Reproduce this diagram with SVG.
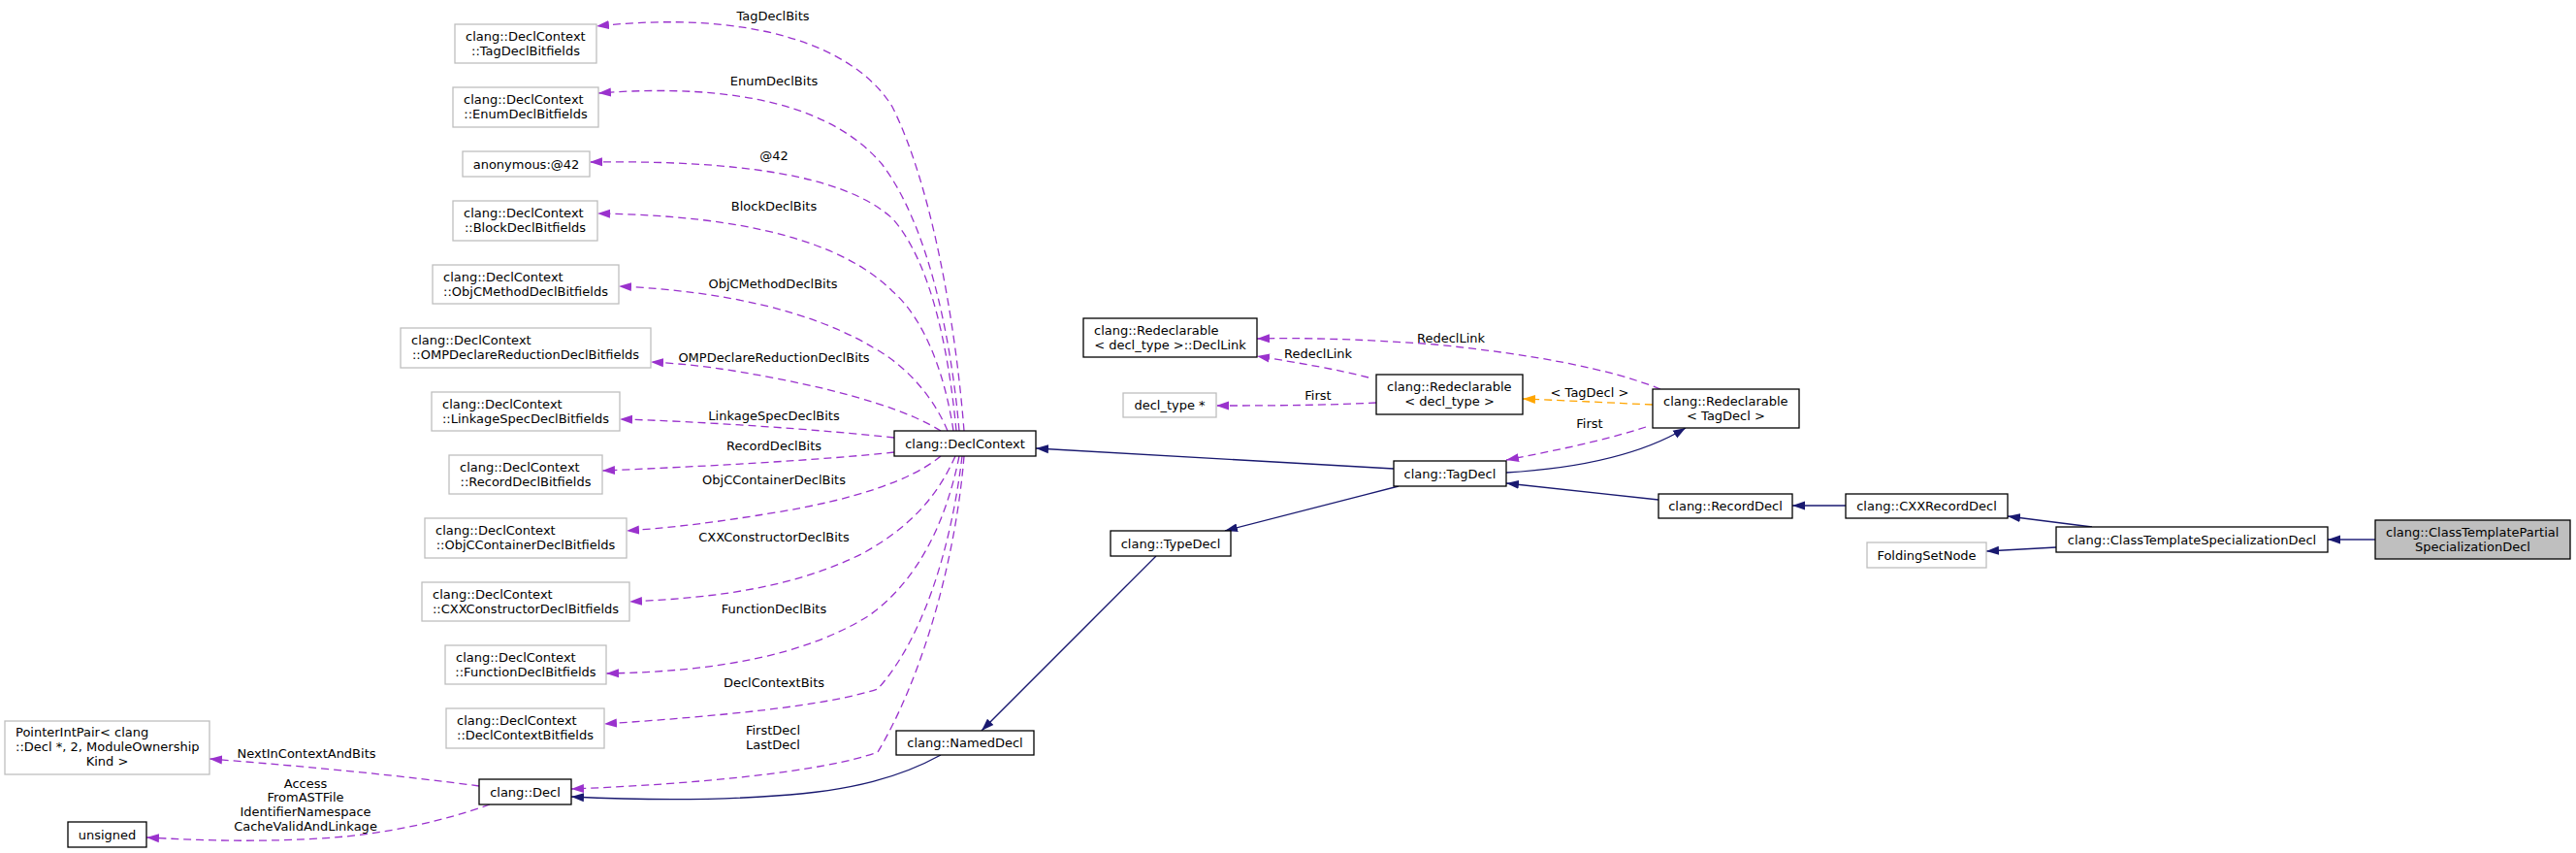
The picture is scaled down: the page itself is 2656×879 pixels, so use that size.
<svg xmlns="http://www.w3.org/2000/svg" width="2656" height="879" viewBox="0 0 2656 879">
<style>
text{font-family:"DejaVu Sans","Liberation Sans",sans-serif;font-size:13px;fill:#000}
.c{text-anchor:middle}
.n{fill:#fff;stroke:#000;stroke-width:1.3}
.u{fill:#fff;stroke:#bfbfbf;stroke-width:1.3}
.m{fill:#bfbfbf;stroke:#000;stroke-width:1.3}
.p{fill:none;stroke:#9a32cd;stroke-width:1.3;stroke-dasharray:8,5;marker-end:url(#ap)}
.o{fill:none;stroke:#ffa500;stroke-width:1.3;stroke-dasharray:8,5;marker-end:url(#ao)}
.b{fill:none;stroke:#191970;stroke-width:1.3;marker-end:url(#ab)}
.bt{fill:none;stroke:#5a5a9c;stroke-width:2.2;marker-end:url(#ab)}
</style>
<defs>
<marker id="ap" markerWidth="14" markerHeight="10" refX="13" refY="5" orient="auto" markerUnits="userSpaceOnUse"><path d="M0,0.5 L13,5 L0,9.5 z" fill="#9a32cd"/></marker>
<marker id="ao" markerWidth="14" markerHeight="10" refX="13" refY="5" orient="auto" markerUnits="userSpaceOnUse"><path d="M0,0.5 L13,5 L0,9.5 z" fill="#ffa500"/></marker>
<marker id="ab" markerWidth="14" markerHeight="10" refX="13" refY="5" orient="auto" markerUnits="userSpaceOnUse"><path d="M0,0.5 L13,5 L0,9.5 z" fill="#191970"/></marker>
</defs>
<rect width="2656" height="879" fill="#fff"/>
<g id="connectors">
<path class="p" d="M994,444 C985,330 960,190 920,110 C880,45 770,10 615,27"/>
<path class="p" d="M989,444 C980,340 955,230 910,170 C860,110 760,85 617,96"/>
<path class="p" d="M986,444 C978,360 960,270 920,225 C870,180 760,165 608,167"/>
<path class="p" d="M983,444 C975,390 955,330 920,300 C870,250 770,222 616,220"/>
<path class="p" d="M977,444 C965,415 940,380 900,358 C840,322 750,300 638,295"/>
<path class="p" d="M970,444 C940,425 880,405 800,390 C750,380 710,375 671,373"/>
<path class="p" d="M922,451 C850,443 720,434 639,432"/>
<path class="p" d="M922,466 C850,474 720,481 621,485"/>
<path class="p" d="M970,470 C940,495 880,515 800,528 C740,538 700,543 646,547"/>
<path class="p" d="M985,470 C965,515 935,545 890,570 C820,605 740,616 649,620"/>
<path class="p" d="M989,470 C975,540 945,600 895,635 C830,675 740,692 625,694"/>
<path class="p" d="M992,470 C980,570 950,660 905,710 C850,728 740,738 623,746"/>
<path class="p" d="M994,470 C985,580 950,700 905,775 C850,795 720,808 589,813"/>
<path class="p" d="M494,810 C420,800 320,790 216,782"/>
<path class="p" d="M505,829 C460,845 400,860 330,864 C260,868 210,866 151,863"/>
<path class="b" d="M970,778 C930,800 880,815 800,820 C720,826 650,824 589,821"/>
<path class="b" d="M1192,573 L1012,753"/>
<path class="b" d="M1442,501 L1263,547"/>
<path class="b" d="M1437,483 L1068,462"/>
<path class="b" d="M1553,487 C1620,483 1690,470 1738,441"/>
<path class="b" d="M1710,515 L1553,498"/>
<path class="b" d="M1903,521 L1848,521"/>
<path class="b" d="M2157,543 L2070,532"/>
<path class="b" d="M2120,564 L2048,568"/>
<path class="bt" d="M2449,556 L2400,556"/>
<path class="p" d="M1411,389 C1380,381 1340,374 1296,367"/>
<path class="p" d="M1419,415 C1360,418 1300,418 1254,418"/>
<path class="p" d="M1712,401 C1660,380 1580,365 1480,355 C1400,349 1340,348 1296,349"/>
<path class="o" d="M1704,417 C1660,415 1620,413 1570,411"/>
<path class="p" d="M1697,440 C1650,455 1600,465 1553,474"/>
<text class="c" x="797" y="20.5">TagDeclBits</text>
<text class="c" x="798" y="87.5">EnumDeclBits</text>
<text class="c" x="798" y="164.5">@42</text>
<text class="c" x="798" y="216.5">BlockDeclBits</text>
<text class="c" x="797" y="296.5">ObjCMethodDeclBits</text>
<text class="c" x="798" y="372.5">OMPDeclareReductionDeclBits</text>
<text class="c" x="798" y="432.5">LinkageSpecDeclBits</text>
<text class="c" x="798" y="463.5">RecordDeclBits</text>
<text class="c" x="798" y="498.5">ObjCContainerDeclBits</text>
<text class="c" x="798" y="557.5">CXXConstructorDeclBits</text>
<text class="c" x="798" y="631.5">FunctionDeclBits</text>
<text class="c" x="798" y="707.5">DeclContextBits</text>
<text class="c" x="797" y="756.5">FirstDecl</text>
<text class="c" x="797" y="771.5">LastDecl</text>
<text class="c" x="316" y="780.5">NextInContextAndBits</text>
<text class="c" x="315" y="811.5">Access</text>
<text class="c" x="315" y="825.5">FromASTFile</text>
<text class="c" x="315" y="840.5">IdentifierNamespace</text>
<text class="c" x="315" y="855.5">CacheValidAndLinkage</text>
<text class="c" x="1496" y="352.5">RedeclLink</text>
<text class="c" x="1359" y="368.5">RedeclLink</text>
<text class="c" x="1359" y="411.5">First</text>
<text class="c" x="1639" y="408.5">&lt; TagDecl &gt;</text>
<text class="c" x="1639" y="440.5">First</text>
</g>
<g id="bf_tag"><rect class="u" x="469" y="25" width="146" height="40"/><text x="480" y="41.5">clang::DeclContext</text><text class="c" x="542" y="56.5">::TagDeclBitfields</text></g>
<g id="bf_enum"><rect class="u" x="467" y="90" width="150" height="41"/><text x="478" y="106.5">clang::DeclContext</text><text class="c" x="542" y="121.5">::EnumDeclBitfields</text></g>
<g id="anon42"><rect class="u" x="477" y="156" width="131" height="26"/><text class="c" x="542.5" y="173.5">anonymous:@42</text></g>
<g id="bf_block"><rect class="u" x="467" y="207" width="149" height="41"/><text x="478" y="223.5">clang::DeclContext</text><text class="c" x="541.5" y="238.5">::BlockDeclBitfields</text></g>
<g id="bf_objcmethod"><rect class="u" x="446" y="273" width="192" height="40"/><text x="457" y="289.5">clang::DeclContext</text><text class="c" x="542" y="304.5">::ObjCMethodDeclBitfields</text></g>
<g id="bf_omp"><rect class="u" x="413" y="338" width="258" height="41"/><text x="424" y="354.5">clang::DeclContext</text><text class="c" x="542" y="369.5">::OMPDeclareReductionDeclBitfields</text></g>
<g id="bf_linkage"><rect class="u" x="445" y="404" width="194" height="40"/><text x="456" y="420.5">clang::DeclContext</text><text class="c" x="542" y="435.5">::LinkageSpecDeclBitfields</text></g>
<g id="bf_record"><rect class="u" x="463" y="469" width="158" height="40"/><text x="474" y="485.5">clang::DeclContext</text><text class="c" x="542" y="500.5">::RecordDeclBitfields</text></g>
<g id="bf_objccontainer"><rect class="u" x="438" y="534" width="208" height="41"/><text x="449" y="550.5">clang::DeclContext</text><text class="c" x="542" y="565.5">::ObjCContainerDeclBitfields</text></g>
<g id="bf_cxxctor"><rect class="u" x="435" y="600" width="214" height="40"/><text x="446" y="616.5">clang::DeclContext</text><text class="c" x="542" y="631.5">::CXXConstructorDeclBitfields</text></g>
<g id="bf_function"><rect class="u" x="459" y="665" width="166" height="40"/><text x="470" y="681.5">clang::DeclContext</text><text class="c" x="542" y="696.5">::FunctionDeclBitfields</text></g>
<g id="bf_declcontext"><rect class="u" x="460" y="730" width="163" height="41"/><text x="471" y="746.5">clang::DeclContext</text><text class="c" x="541.5" y="761.5">::DeclContextBitfields</text></g>
<g id="pointerintpair"><rect class="u" x="5" y="743" width="211" height="55"/><text x="16" y="758.5">PointerIntPair&lt; clang</text><text x="16" y="773.5">::Decl *, 2, ModuleOwnership</text><text class="c" x="110.5" y="788.5">Kind &gt;</text></g>
<g id="decl"><rect class="n" x="494" y="803" width="95" height="26"/><text class="c" x="541.5" y="820.5">clang::Decl</text></g>
<g id="unsigned"><rect class="n" x="70" y="847" width="81" height="26"/><text class="c" x="110.5" y="864.5">unsigned</text></g>
<g id="declcontext"><rect class="n" x="922" y="444" width="146" height="26"/><text class="c" x="995" y="461.5">clang::DeclContext</text></g>
<g id="nameddecl"><rect class="n" x="924" y="753" width="142" height="25"/><text class="c" x="995" y="770">clang::NamedDecl</text></g>
<g id="typedecl"><rect class="n" x="1145" y="547" width="124" height="26"/><text class="c" x="1207" y="564.5">clang::TypeDecl</text></g>
<g id="tagdecl"><rect class="n" x="1437" y="475" width="116" height="26"/><text class="c" x="1495" y="492.5">clang::TagDecl</text></g>
<g id="decllink"><rect class="n" x="1117" y="328" width="179" height="40"/><text x="1128" y="344.5">clang::Redeclarable</text><text class="c" x="1206.5" y="359.5">&lt; decl_type &gt;::DeclLink</text></g>
<g id="decltype"><rect class="u" x="1158" y="405" width="96" height="25"/><text class="c" x="1206" y="422">decl_type *</text></g>
<g id="redecl_dt"><rect class="n" x="1419" y="386" width="151" height="41"/><text x="1430" y="402.5">clang::Redeclarable</text><text class="c" x="1494.5" y="417.5">&lt; decl_type &gt;</text></g>
<g id="redecl_td"><rect class="n" x="1704" y="401" width="151" height="40"/><text x="1715" y="417.5">clang::Redeclarable</text><text class="c" x="1779.5" y="432.5">&lt; TagDecl &gt;</text></g>
<g id="recorddecl"><rect class="n" x="1710" y="509" width="138" height="25"/><text class="c" x="1779" y="526">clang::RecordDecl</text></g>
<g id="cxxrecorddecl"><rect class="n" x="1903" y="509" width="167" height="25"/><text class="c" x="1986.5" y="526">clang::CXXRecordDecl</text></g>
<g id="foldingsetnode"><rect class="u" x="1925" y="559" width="123" height="26"/><text class="c" x="1986.5" y="576.5">FoldingSetNode</text></g>
<g id="ctsd"><rect class="n" x="2120" y="543" width="280" height="26"/><text class="c" x="2260" y="560.5">clang::ClassTemplateSpecializationDecl</text></g>
<g id="ctpsd"><rect class="m" x="2449" y="536" width="201" height="40"/><text x="2460" y="552.5">clang::ClassTemplatePartial</text><text class="c" x="2549.5" y="567.5">SpecializationDecl</text></g>
</svg>
